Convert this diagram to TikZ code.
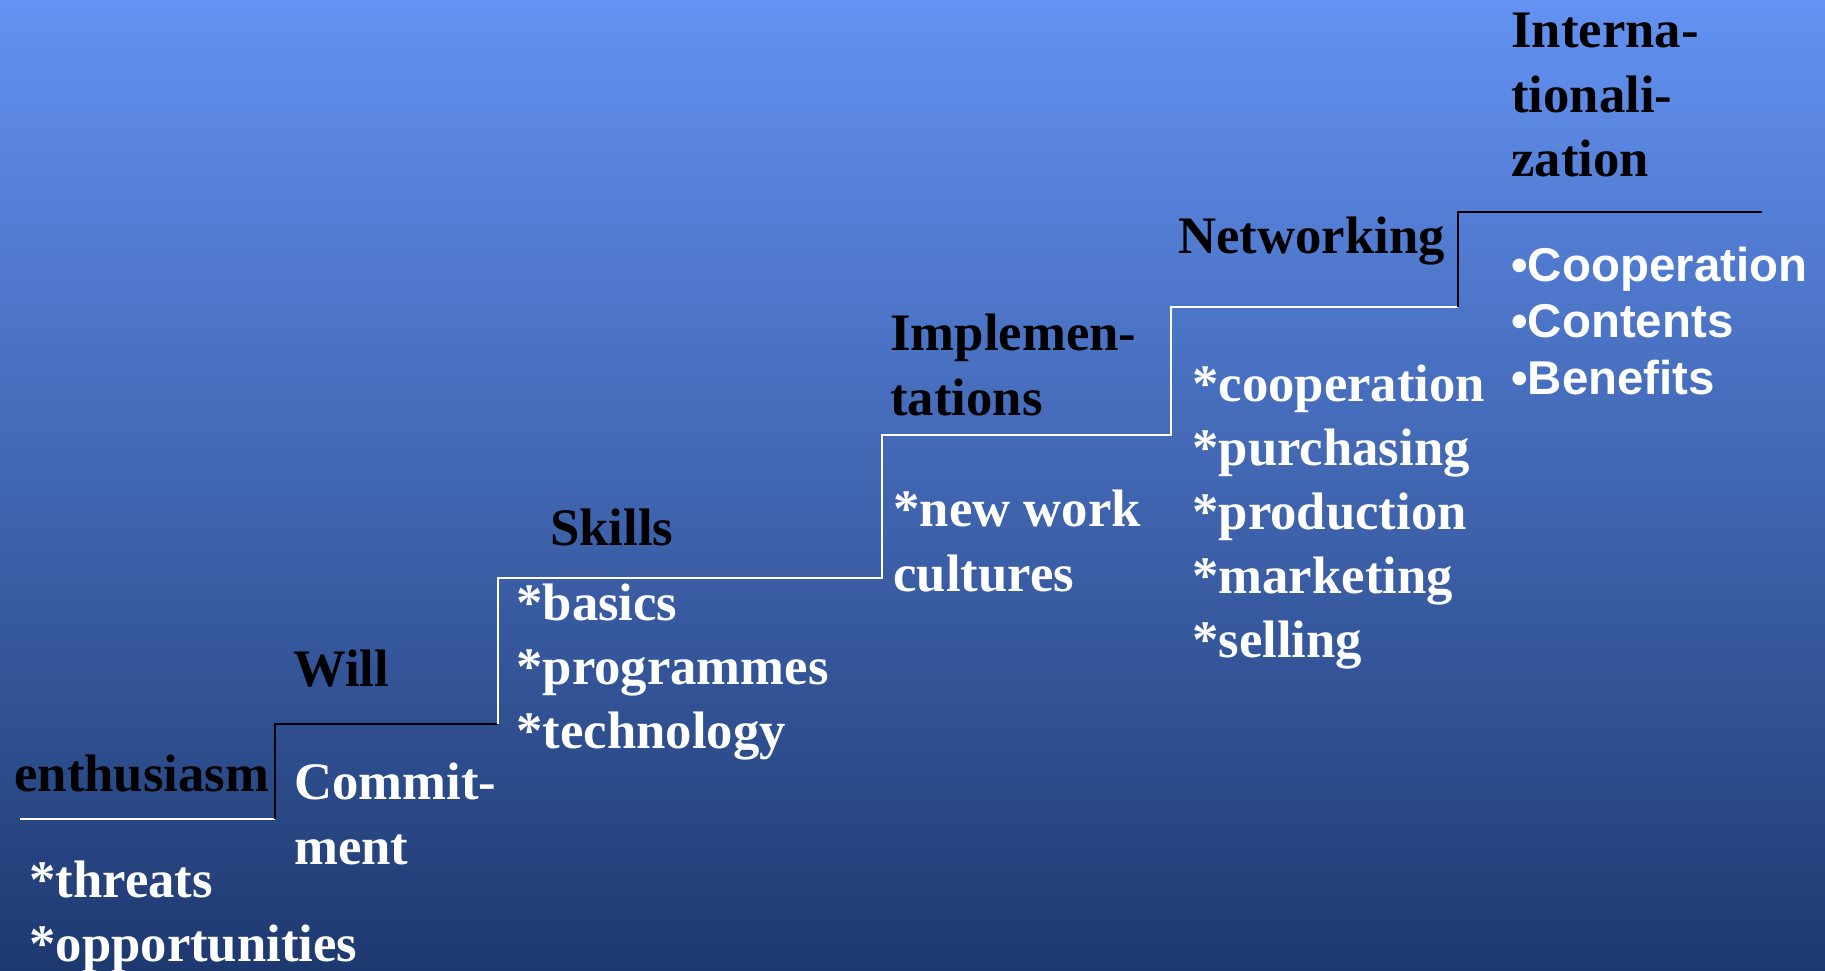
\documentclass[tikz,border=0pt]{standalone}
\usepackage{fontspec}
\setmainfont{Liberation Serif}
\newfontfamily\arialfont{Liberation Sans}
\usepackage{tikz}
\usetikzlibrary{calc}

\definecolor{bgtop}{RGB}{99,146,242}
\definecolor{bgmid}{RGB}{66,106,190}
\definecolor{bgbot}{RGB}{30,57,112}

\tikzset{
  steptitle/.style={anchor=west, inner sep=0pt, align=left, text=black,
    font=\fontsize{30}{36.5}\selectfont\bfseries},
  steplist/.style={anchor=west, inner sep=0pt, align=left, text=white,
    font=\fontsize{30}{36.5}\selectfont\bfseries},
  bulletlist/.style={anchor=west, inner sep=0pt, align=left, text=white,
    font=\fontsize{27}{32.4}\selectfont\arialfont\bfseries},
  stairline/.style={line width=1.6pt}
}

\begin{document}
\begin{tikzpicture}[x=0.02cm, y=-0.02cm]
              \shade[top color=bgtop, middle color=bgmid, bottom color=bgbot] (0, 0) rectangle (1825, 970);
              \useasboundingbox (0, 0) rectangle (1825, 970);
              % corners of the stairs
              \coordinate (s0) at (20, 819);
              \coordinate (s1) at (275, 819);
              \coordinate (s2) at (275, 724);
              \coordinate (s3) at (498, 724);
              \coordinate (s4) at (498, 578);
              \coordinate (s5) at (882, 578);
              \coordinate (s6) at (882, 435);
              \coordinate (s7) at (1171, 435);
              \coordinate (s8) at (1171, 307);
              \coordinate (s9) at (1458, 307);
              \coordinate (s10) at (1458, 212);
              \coordinate (s11) at (1762, 212);
              \draw[stairline, white] (s0) -- (s1);
              \draw[stairline, black] (s1) -- (s2) -- (s3);
              \draw[stairline, white] (s3) -- (s4) -- (s5) -- (s6) -- (s7) -- (s8) -- (s9);
              \draw[stairline, black] (s9) -- (s10) -- (s11);
              % step texts
              \node[steptitle] (enthusiasm) at (14, 774) {enthusiasm};
              \node[steplist] (threats) at (29, 917) {*threats\\*opportunities};
              \node[steptitle] (will) at (293, 669) {Will};
              \node[steplist] (commitment) at (294, 814) {Commit-\\ment};
              \node[steptitle] (skills) at (550, 527) {Skills};
              \node[steplist] (basics) at (516, 672) {*basics\\*programmes\\*technology};
              \node[steptitle] (implement) at (890, 365) {Implemen-\\tations};
              \node[steplist] (cultures) at (893, 541) {*new work\\cultures};
              \node[steptitle] (networking) at (1178, 241) {Networking};
              \node[steplist] (cooperation) at (1192, 517) {*cooperation\\*purchasing\\*production\\*marketing\\*selling};
              \node[bulletlist] (benefits) at (1511, 321) {•Cooperation\\•Contents\\•Benefits};
              \node[steptitle] (international) at (1511, 95) {Interna-\\tionali-\\zation};
            \end{tikzpicture}
\end{document}
